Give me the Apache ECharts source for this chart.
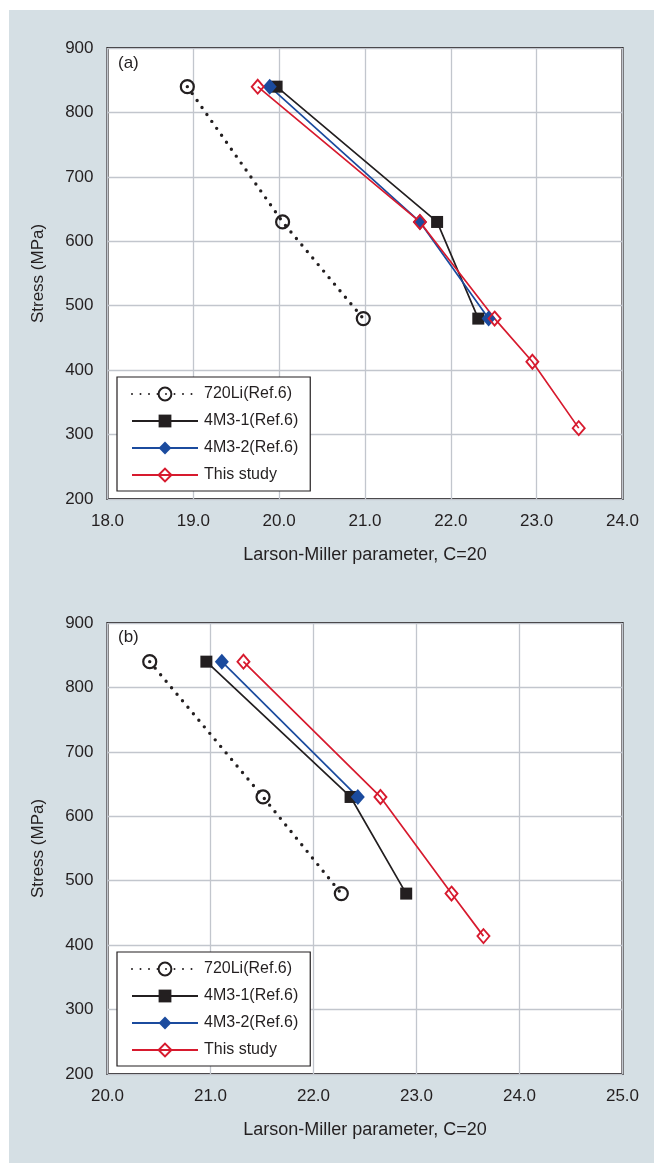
<!DOCTYPE html>
<html>
<head>
<meta charset="utf-8">
<script src="https://cdn.jsdelivr.net/npm/echarts@6/dist/echarts.min.js"></script>
<style>
  html, body { margin: 0; padding: 0; background: #ffffff; }
  #chart { width: 654px; height: 1163px; }
</style>
</head>
<body>
<div id="chart"></div>
<script>
// Stress levels (MPa)
const stress3 = [840, 630, 480];
const stress2 = [840, 630];
const stressThisA = [840, 630, 480, 413, 310];
const stressThisB = [840, 630, 480, 414];

// (a) Larson-Miller parameter values
const lmpA_720Li = [18.93, 20.04, 20.98];
const lmpA_4M3_1 = [19.97, 21.84, 22.32];
const lmpA_4M3_2 = [19.89, 21.64, 22.44];
const lmpA_this  = [19.75, 21.64, 22.51, 22.95, 23.49];

// (b) Larson-Miller parameter values
const lmpB_720Li = [20.41, 21.51, 22.27];
const lmpB_4M3_1 = [20.96, 22.36, 22.90];
const lmpB_4M3_2 = [21.11, 22.43];
const lmpB_this  = [21.32, 22.65, 23.34, 23.65];

const seriesNames = ['720Li(Ref.6)', '4M3-1(Ref.6)', '4M3-2(Ref.6)', 'This study'];
const panelLabels = ['(a)', '(b)'];
const xNameText = 'Larson-Miller parameter, C=20';
const yNameText = 'Stress (MPa)';

const FONT = "'Liberation Sans', Arial, sans-serif";
const INK = '#231f20';
const BLUE = '#1b4b9e';
const RED = '#d71a2e';
const GRIDLINE = '#c2c6cd';

function pairs(xs, ys) { return xs.map((x, i) => [x, ys[i]]); }

const styles = [
  { symbol: 'circle', symbolSize: 13,
    itemStyle: { color: 'rgba(0,0,0,0)', borderColor: INK, borderWidth: 2.2 },
    lineStyle: { color: INK, width: 3.4, type: [0, 8.5], cap: 'round' } },
  { symbol: 'rect', symbolSize: 12,
    itemStyle: { color: INK, borderColor: INK, borderWidth: 0 },
    lineStyle: { color: INK, width: 1.7, type: 'solid' } },
  { symbol: 'diamond', symbolSize: [14, 16],
    itemStyle: { color: BLUE, borderColor: BLUE, borderWidth: 0 },
    lineStyle: { color: BLUE, width: 1.7, type: 'solid' } },
  { symbol: 'diamond', symbolSize: [12, 14],
    itemStyle: { color: 'rgba(0,0,0,0)', borderColor: RED, borderWidth: 1.9 },
    lineStyle: { color: RED, width: 1.7, type: 'solid' } }
];

function makeSeries(idx, data, axisIdx) {
  const s = styles[idx];
  return {
    type: 'line', name: seriesNames[idx], data: data,
    xAxisIndex: axisIdx, yAxisIndex: axisIdx,
    symbol: s.symbol, symbolSize: s.symbolSize,
    itemStyle: s.itemStyle, lineStyle: s.lineStyle,
    showAllSymbol: true, animation: false, silent: true,
    emphasis: { disabled: true }
  };
}

const GRID_LEFT = 107.5, GRID_W = 515, GRID_H = 451;
const GRID_TOPS = [48, 623];

function xAxisFor(i, min, max) {
  return {
    gridIndex: i, type: 'value', min: min, max: max, interval: 1,
    name: xNameText, nameLocation: 'middle', nameGap: 47,
    nameTextStyle: { fontFamily: FONT, fontSize: 18, color: INK },
    axisLine: { show: false }, axisTick: { show: false },
    axisLabel: { fontFamily: FONT, fontSize: 17, color: INK, margin: 14,
                 formatter: v => v.toFixed(1) },
    splitLine: { show: true, lineStyle: { color: GRIDLINE, width: 1.3 } }
  };
}

function yAxisFor(i) {
  return {
    gridIndex: i, type: 'value', min: 200, max: 900, interval: 100,
    name: yNameText, nameLocation: 'middle', nameGap: 61,
    nameTextStyle: { fontFamily: FONT, fontSize: 17, color: INK },
    axisLine: { show: false }, axisTick: { show: false },
    axisLabel: { fontFamily: FONT, fontSize: 17, color: INK, margin: 14 },
    splitLine: { show: true, lineStyle: { color: GRIDLINE, width: 1.3 } }
  };
}

function legendFor(top) {
  return {
    left: 117, top: top, orient: 'vertical',
    data: seriesNames,
    itemWidth: 66, itemHeight: 16, itemGap: 11,
    backgroundColor: '#ffffff', borderColor: INK, borderWidth: 1.2,
    borderRadius: 0, padding: [9, 12, 8, 14],
    textStyle: { fontFamily: FONT, fontSize: 16, color: INK, padding: [0, 0, 0, 1] },
    selectedMode: false
  };
}

const chart = echarts.init(document.getElementById('chart'), null, { renderer: 'canvas' });

chart.setOption({
  animation: false,
  backgroundColor: '#ffffff',
  graphic: [
    { type: 'rect', z: -10, silent: true,
      shape: { x: 9, y: 10, width: 645, height: 1153 },
      style: { fill: '#d5dfe4' } },
    { type: 'text', left: 118, top: 55, z: 100, silent: true,
      style: { text: panelLabels[0], font: '17px ' + FONT, fill: INK } },
    { type: 'text', left: 118, top: 629, z: 100, silent: true,
      style: { text: panelLabels[1], font: '17px ' + FONT, fill: INK } }
  ],
  grid: GRID_TOPS.map(t => ({
    left: GRID_LEFT, top: t, width: GRID_W, height: GRID_H,
    show: true, backgroundColor: '#ffffff', borderColor: INK, borderWidth: 2.2,
    containLabel: false
  })),
  xAxis: [xAxisFor(0, 18, 24), xAxisFor(1, 20, 25)],
  yAxis: [yAxisFor(0), yAxisFor(1)],
  legend: [legendFor(377), legendFor(952)],
  series: [
    makeSeries(0, pairs(lmpA_720Li, stress3), 0),
    makeSeries(1, pairs(lmpA_4M3_1, stress3), 0),
    makeSeries(2, pairs(lmpA_4M3_2, stress3), 0),
    makeSeries(3, pairs(lmpA_this, stressThisA), 0),
    makeSeries(0, pairs(lmpB_720Li, stress3), 1),
    makeSeries(1, pairs(lmpB_4M3_1, stress3), 1),
    makeSeries(2, pairs(lmpB_4M3_2, stress2), 1),
    makeSeries(3, pairs(lmpB_this, stressThisB), 1)
  ]
});
</script>
</body>
</html>
